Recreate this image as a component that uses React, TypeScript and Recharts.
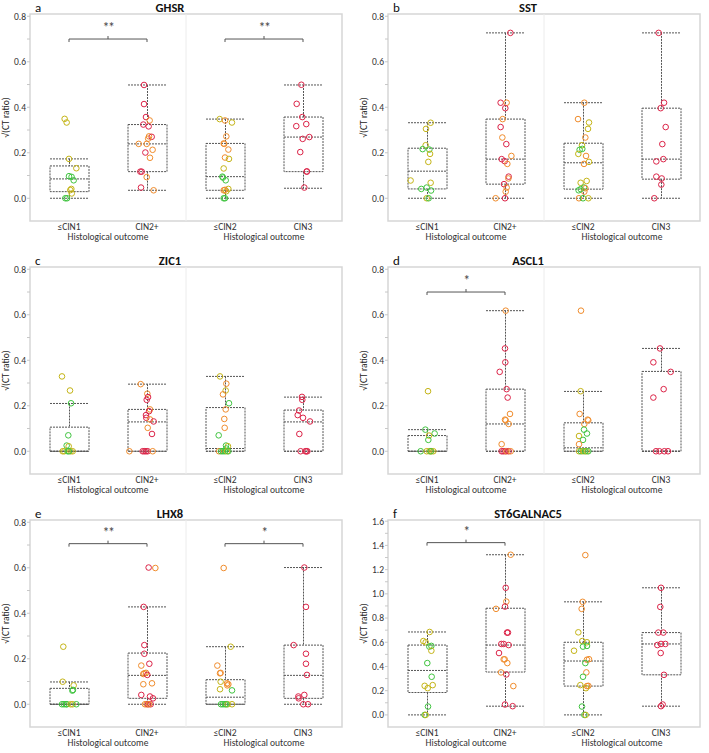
import React from "react";
import {
  Bar,
  ComposedChart,
  ReferenceArea,
  ReferenceLine,
  Scatter,
  XAxis,
  YAxis,
} from "recharts";

const FONT = "Carlito, Lato, 'Open Sans', sans-serif";

const GROUPS = ["≤CIN1", "CIN2+", "≤CIN2", "CIN3"];
const HALVES = ["left", "left", "right", "right"];

const GRADE_COLORS: Record<string, string> = {
  g: "#3fc43f",
  y: "#c4b416",
  o: "#f08c2c",
  r: "#dc2448",
};

// box stats per group: [min, q1, median, q3, max]
const ghsrBoxes = [
  [0, 0.029, 0.085, 0.142, 0.173],
  [0.035, 0.117, 0.239, 0.324, 0.498],
  [0, 0.035, 0.095, 0.241, 0.348],
  [0.044, 0.117, 0.269, 0.357, 0.498],
];
// points: [group, jitter (fraction of band), value, grade]
const ghsrPoints: [number, number, number, string][] = [
  [0, -0.056, 0.349, "y"], [0, -0.03, 0.333, "y"], [0, 0.0, 0.173, "y"], [0, 0.094, 0.132, "y"],
  [0, 0.0, 0.097, "g"], [0, 0.033, 0.094, "g"], [0, 0.06, 0.079, "g"], [0, 0.03, 0.041, "y"],
  [0, 0.017, 0.036, "y"], [0, 0.035, 0.021, "y"], [0, -0.047, 0, "g"], [0, -0.025, 0, "g"],
  [1, -0.038, 0.498, "r"], [1, -0.038, 0.414, "r"], [1, -0.013, 0.357, "r"], [1, 0.034, 0.342, "o"],
  [1, -0.047, 0.324, "r"], [1, 0.021, 0.316, "r"], [1, 0.026, 0.272, "o"], [1, 0.06, 0.27, "r"],
  [1, 0.015, 0.262, "o"], [1, -0.106, 0.239, "o"], [1, -0.004, 0.239, "o"], [1, 0.072, 0.213, "o"],
  [1, -0.021, 0.201, "r"], [1, 0.038, 0.178, "o"], [1, -0.085, 0.117, "r"], [1, -0.068, 0.117, "r"],
  [1, -0.004, 0.093, "o"], [1, -0.077, 0.047, "r"], [1, 0.085, 0.035, "o"],
  [2, -0.068, 0.348, "y"], [2, 0.0, 0.342, "o"], [2, 0.089, 0.333, "y"], [2, 0.017, 0.272, "o"],
  [2, -0.017, 0.241, "o"], [2, -0.01, 0.239, "o"], [2, 0.043, 0.214, "o"], [2, 0.0, 0.179, "o"],
  [2, 0.051, 0.173, "y"], [2, -0.017, 0.131, "y"], [2, -0.034, 0.095, "g"], [2, -0.026, 0.091, "g"],
  [2, 0.009, 0.079, "g"], [2, 0.043, 0.041, "y"], [2, 0.0, 0.037, "o"], [2, 0.017, 0.031, "y"],
  [2, -0.017, 0.035, "o"], [2, -0.017, 0, "g"], [2, 0.0, 0, "g"],
  [3, -0.021, 0.499, "r"], [3, -0.081, 0.415, "r"], [3, -0.009, 0.357, "r"], [3, -0.086, 0.317, "r"],
  [3, 0.042, 0.326, "r"], [3, -0.004, 0.261, "r"], [3, 0.081, 0.269, "r"], [3, -0.035, 0.203, "r"],
  [3, 0.047, 0.117, "r"], [3, 0.05, 0.118, "r"], [3, 0.017, 0.047, "r"],
];

const sstBoxes = [
  [0, 0.041, 0.119, 0.22, 0.332],
  [0, 0.062, 0.172, 0.348, 0.727],
  [0, 0.04, 0.156, 0.242, 0.42],
  [0, 0.084, 0.172, 0.396, 0.727],
];
const sstPoints: [number, number, number, string][] = [
  [0, 0.047, 0.332, "y"], [0, -0.013, 0.305, "y"], [0, -0.017, 0.233, "y"], [0, -0.056, 0.216, "g"],
  [0, 0.03, 0.214, "g"], [0, 0.039, 0.195, "y"], [0, 0.017, 0.16, "y"], [0, -0.21, 0.078, "y"],
  [0, 0.047, 0.068, "y"], [0, -0.073, 0.041, "g"], [0, -0.004, 0.047, "g"], [0, 0.052, 0.034, "g"],
  [0, -0.004, 0, "y"], [0, 0.021, 0, "g"],
  [1, 0.069, 0.727, "r"], [1, -0.056, 0.42, "r"], [1, 0.021, 0.42, "o"], [1, 0.004, 0.396, "r"],
  [1, -0.03, 0.348, "o"], [1, -0.056, 0.313, "r"], [1, -0.034, 0.267, "o"], [1, 0.017, 0.238, "r"],
  [1, -0.043, 0.172, "r"], [1, 0.082, 0.186, "o"], [1, -0.004, 0.163, "r"], [1, 0.03, 0.151, "o"],
  [1, 0.047, 0.095, "r"], [1, 0.043, 0.087, "o"], [1, -0.013, 0.062, "r"], [1, 0.021, 0.047, "o"],
  [1, 0.009, 0.029, "o"], [1, -0.12, 0, "o"], [1, 0.0, 0, "r"],
  [2, 0.017, 0.42, "o"], [2, -0.064, 0.348, "o"], [2, 0.077, 0.333, "y"], [2, 0.064, 0.305, "y"],
  [2, 0.03, 0.267, "o"], [2, -0.013, 0.233, "y"], [2, -0.043, 0.213, "g"], [2, -0.009, 0.217, "g"],
  [2, -0.06, 0.195, "y"], [2, 0.039, 0.186, "o"], [2, 0.077, 0.16, "y"], [2, 0.013, 0.151, "o"],
  [2, 0.047, 0.076, "y"], [2, -0.03, 0.068, "y"], [2, -0.056, 0.035, "g"], [2, 0.013, 0.047, "g"],
  [2, 0.03, 0.044, "o"], [2, 0.017, 0.029, "o"], [2, -0.03, 0.04, "g"], [2, -0.052, 0, "o"],
  [2, 0.0, 0, "g"], [2, 0.069, 0, "y"],
  [3, -0.03, 0.727, "r"], [3, 0.039, 0.42, "r"], [3, -0.004, 0.396, "r"], [3, 0.06, 0.313, "r"],
  [3, 0.017, 0.238, "r"], [3, 0.03, 0.172, "r"], [3, -0.06, 0.162, "r"], [3, -0.06, 0.095, "r"],
  [3, 0.009, 0.087, "r"], [3, 0.004, 0.06, "r"], [3, -0.086, 0, "r"],
];

const zic1Boxes = [
  [0, 0, 0, 0.106, 0.21],
  [0, 0, 0.129, 0.184, 0.295],
  [0, 0, 0.012, 0.192, 0.329],
  [0, 0, 0.129, 0.181, 0.238],
];
const zic1Points: [number, number, number, string][] = [
  [0, -0.09, 0.329, "y"], [0, 0.013, 0.267, "y"], [0, 0.026, 0.211, "g"], [0, -0.009, 0.07, "g"],
  [0, -0.03, 0.025, "g"], [0, -0.004, 0.022, "y"], [0, -0.081, 0, "y"], [0, -0.06, 0, "y"],
  [0, -0.017, 0, "g"], [0, 0.021, 0, "y"], [0, 0.047, 0, "y"], [0, 0.0, 0, "g"],
  [1, -0.081, 0.295, "o"], [1, 0.004, 0.253, "o"], [1, 0.013, 0.238, "r"], [1, -0.004, 0.226, "r"],
  [1, 0.038, 0.184, "o"], [1, 0.026, 0.176, "r"], [1, -0.013, 0.159, "r"], [1, -0.009, 0.147, "r"],
  [1, 0.038, 0.14, "o"], [1, 0.085, 0.131, "r"], [1, 0.009, 0.103, "o"], [1, 0.064, 0.076, "r"],
  [1, -0.226, 0, "o"], [1, -0.056, 0, "r"], [1, -0.034, 0, "r"], [1, -0.013, 0, "r"],
  [1, 0.009, 0, "r"], [1, 0.073, 0, "o"],
  [2, -0.064, 0.329, "y"], [2, 0.017, 0.297, "o"], [2, 0.009, 0.267, "y"], [2, -0.026, 0.25, "o"],
  [2, 0.051, 0.211, "g"], [2, 0.009, 0.184, "o"], [2, -0.009, 0.142, "o"], [2, -0.004, 0.103, "o"],
  [2, -0.081, 0.07, "g"], [2, 0.013, 0.025, "g"], [2, 0.038, 0.022, "y"], [2, 0.017, 0.012, "g"],
  [2, -0.077, 0, "o"], [2, -0.051, 0, "g"], [2, -0.026, 0, "g"], [2, 0.0, 0, "g"],
  [2, 0.026, 0, "y"], [2, 0.043, 0, "g"],
  [3, -0.013, 0.239, "r"], [3, -0.009, 0.226, "r"], [3, -0.051, 0.179, "r"], [3, -0.068, 0.159, "r"],
  [3, 0.0, 0.147, "r"], [3, 0.09, 0.131, "r"], [3, -0.047, 0.076, "r"], [3, -0.03, 0, "r"],
  [3, 0.03, 0, "r"], [3, 0.056, 0, "r"], [3, 0.043, 0, "r"],
];

const ascl1Boxes = [
  [0, 0, 0, 0.069, 0.095],
  [0, 0, 0.12, 0.273, 0.618],
  [0, 0, 0.015, 0.125, 0.263],
  [0, 0, 0, 0.351, 0.452],
];
const ascl1Points: [number, number, number, string][] = [
  [0, 0.013, 0.264, "y"], [0, -0.021, 0.095, "g"], [0, 0.098, 0.078, "g"], [0, 0.026, 0.069, "y"],
  [0, 0.017, 0.05, "g"], [0, -0.081, 0, "g"], [0, -0.004, 0, "y"], [0, 0.03, 0, "y"],
  [0, 0.056, 0, "y"], [0, 0.081, 0, "y"], [0, 0.047, 0, "g"],
  [1, 0.009, 0.618, "o"], [1, 0.0, 0.452, "r"], [1, 0.004, 0.391, "r"], [1, -0.068, 0.349, "r"],
  [1, 0.021, 0.273, "r"], [1, 0.034, 0.236, "r"], [1, 0.064, 0.164, "o"], [1, 0.0, 0.139, "o"],
  [1, 0.009, 0.136, "o"], [1, 0.047, 0.12, "o"], [1, -0.043, 0.031, "o"], [1, -0.043, 0, "r"],
  [1, -0.021, 0, "r"], [1, 0.004, 0, "r"], [1, 0.021, 0, "o"], [1, 0.047, 0, "r"], [1, 0.073, 0, "o"],
  [2, -0.026, 0.618, "o"], [2, -0.03, 0.264, "y"], [2, -0.043, 0.164, "o"], [2, 0.06, 0.139, "o"],
  [2, 0.068, 0.136, "o"], [2, 0.017, 0.12, "o"], [2, 0.013, 0.095, "g"], [2, 0.051, 0.078, "g"],
  [2, -0.051, 0.067, "y"], [2, 0.0, 0.05, "g"], [2, -0.051, 0.031, "o"], [2, -0.051, 0, "y"],
  [2, -0.026, 0, "g"], [2, 0.0, 0, "y"], [2, 0.026, 0, "g"], [2, 0.047, 0, "y"], [2, 0.068, 0, "g"],
  [3, -0.013, 0.452, "r"], [3, -0.098, 0.391, "r"], [3, 0.124, 0.349, "r"], [3, 0.034, 0.273, "r"],
  [3, -0.098, 0.236, "r"], [3, -0.064, 0, "r"], [3, -0.021, 0, "r"], [3, 0.043, 0, "r"], [3, 0.09, 0, "r"],
];

const lhx8Boxes = [
  [0, 0, 0, 0.07, 0.098],
  [0, 0.026, 0.127, 0.225, 0.428],
  [0, 0, 0.031, 0.108, 0.253],
  [0, 0.026, 0.127, 0.26, 0.601],
];
const lhx8Points: [number, number, number, string][] = [
  [0, -0.073, 0.253, "y"], [0, -0.081, 0.099, "y"], [0, 0.06, 0.083, "y"], [0, 0.051, 0.063, "g"],
  [0, 0.043, 0.06, "g"], [0, -0.09, 0, "g"], [0, -0.064, 0, "g"], [0, -0.038, 0, "g"],
  [0, -0.026, 0, "g"], [0, 0.021, 0, "y"], [0, 0.047, 0, "y"], [0, 0.094, 0, "g"],
  [1, 0.021, 0.601, "r"], [1, 0.107, 0.599, "o"], [1, -0.043, 0.428, "r"], [1, -0.034, 0.26, "r"],
  [1, -0.034, 0.222, "r"], [1, 0.03, 0.178, "r"], [1, -0.073, 0.17, "o"], [1, -0.034, 0.136, "o"],
  [1, -0.013, 0.138, "o"], [1, -0.047, 0.133, "o"], [1, 0.004, 0.129, "r"], [1, 0.064, 0.092, "o"],
  [1, -0.047, 0.088, "o"], [1, -0.073, 0.041, "r"], [1, 0.038, 0.034, "r"], [1, 0.077, 0.026, "r"],
  [1, -0.026, 0, "o"], [1, -0.004, 0, "o"], [1, 0.013, 0, "r"], [1, 0.047, 0, "r"], [1, 0.026, 0, "o"],
  [2, -0.017, 0.599, "o"], [2, 0.073, 0.253, "y"], [2, -0.098, 0.17, "o"], [2, -0.064, 0.136, "o"],
  [2, -0.056, 0.138, "o"], [2, -0.056, 0.099, "y"], [2, 0.026, 0.092, "o"], [2, 0.043, 0.088, "o"],
  [2, 0.03, 0.083, "o"], [2, -0.064, 0.066, "y"], [2, 0.09, 0.061, "g"], [2, -0.051, 0, "g"],
  [2, -0.026, 0, "g"], [2, 0.0, 0, "g"], [2, 0.034, 0, "y"], [2, 0.09, 0, "y"], [2, 0.017, 0, "g"],
  [3, 0.017, 0.601, "r"], [3, 0.038, 0.428, "r"], [3, -0.12, 0.26, "r"], [3, 0.038, 0.222, "r"],
  [3, 0.038, 0.178, "r"], [3, 0.051, 0.129, "r"], [3, 0.017, 0.041, "r"], [3, -0.06, 0.034, "r"],
  [3, -0.056, 0.026, "r"], [3, 0.004, 0, "r"], [3, 0.064, 0, "r"],
];

const st6Boxes = [
  [0, 0.185, 0.367, 0.577, 0.685],
  [0.072, 0.354, 0.577, 0.881, 1.323],
  [0, 0.238, 0.445, 0.6, 0.934],
  [0.072, 0.331, 0.586, 0.68, 1.05],
];
const st6Points: [number, number, number, string][] = [
  [0, 0.034, 0.685, "y"], [0, -0.047, 0.61, "y"], [0, -0.017, 0.6, "y"], [0, 0.03, 0.564, "g"],
  [0, 0.056, 0.57, "g"], [0, 0.056, 0.53, "y"], [0, 0.004, 0.428, "g"], [0, 0.06, 0.315, "g"],
  [0, 0.073, 0.246, "y"], [0, -0.03, 0.24, "y"], [0, 0.009, 0.221, "y"], [0, 0.013, 0.069, "g"],
  [0, -0.03, 0, "g"], [0, -0.017, 0, "y"],
  [1, 0.073, 1.323, "o"], [1, 0.009, 1.05, "r"], [1, 0.017, 0.936, "o"], [1, 0.0, 0.895, "r"],
  [1, -0.115, 0.876, "o"], [1, 0.038, 0.68, "r"], [1, 0.026, 0.68, "r"], [1, -0.047, 0.586, "r"],
  [1, -0.017, 0.586, "r"], [1, 0.047, 0.577, "r"], [1, -0.077, 0.511, "r"], [1, -0.017, 0.459, "o"],
  [1, -0.004, 0.459, "o"], [1, 0.03, 0.428, "o"], [1, -0.051, 0.351, "o"], [1, 0.017, 0.334, "r"],
  [1, 0.107, 0.238, "o"], [1, 0.0, 0.086, "r"], [1, 0.098, 0.072, "r"],
  [2, 0.03, 1.32, "o"], [2, -0.004, 0.934, "o"], [2, -0.017, 0.876, "o"], [2, -0.06, 0.682, "y"],
  [2, -0.009, 0.61, "y"], [2, 0.051, 0.6, "y"], [2, 0.0, 0.564, "g"], [2, 0.051, 0.57, "g"],
  [2, -0.115, 0.53, "y"], [2, 0.051, 0.456, "o"], [2, 0.077, 0.46, "o"], [2, 0.03, 0.428, "g"],
  [2, 0.043, 0.351, "o"], [2, 0.0, 0.315, "g"], [2, -0.034, 0.246, "y"], [2, 0.051, 0.238, "o"],
  [2, 0.068, 0.24, "o"], [2, 0.038, 0.221, "y"], [2, -0.013, 0.069, "g"], [2, 0.017, 0, "g"],
  [2, 0.034, 0, "y"],
  [3, 0.0, 1.05, "r"], [3, -0.009, 0.892, "r"], [3, -0.034, 0.68, "r"], [3, 0.03, 0.68, "r"],
  [3, -0.047, 0.577, "r"], [3, 0.0, 0.586, "r"], [3, 0.056, 0.586, "r"], [3, -0.004, 0.511, "r"],
  [3, 0.038, 0.331, "r"], [3, 0.021, 0.086, "r"], [3, 0.0, 0.072, "r"],
];

// significance brackets: [from group, to group, label]
const ghsrSig: [number, number, string][] = [[0, 1, "**"], [2, 3, "**"]];
const ascl1Sig: [number, number, string][] = [[0, 1, "*"]];
const lhx8Sig: [number, number, string][] = [[0, 1, "**"], [2, 3, "*"]];
const st6Sig: [number, number, string][] = [[0, 1, "*"]];

const TICKS_08 = [0, 0.1, 0.2, 0.3, 0.4, 0.5, 0.6, 0.7, 0.8];
const TICKS_16 = [0, 0.1, 0.2, 0.3, 0.4, 0.5, 0.6, 0.7, 0.8, 0.9, 1.0, 1.1, 1.2, 1.3, 1.4, 1.5, 1.6];

const BoxShape = (props: any) => {
  const { x, y, width, height, payload } = props;
  const [mn, q1, md, q3, mx] = payload.stats;
  const top = Math.min(y, y + height);
  const h = Math.abs(height);
  const py = (v: number) => top + (h * (mx - v)) / (mx - mn);
  const cx = x + width / 2;
  const s = { stroke: "#555", strokeWidth: 1, strokeDasharray: "2 1", fill: "none" };
  return (
    <g>
      <line x1={cx} x2={cx} y1={py(mx)} y2={py(q3)} {...s} />
      <line x1={cx} x2={cx} y1={py(q1)} y2={py(mn)} {...s} />
      <line x1={x} x2={x + width} y1={py(mx)} y2={py(mx)} {...s} />
      <line x1={x} x2={x + width} y1={py(mn)} y2={py(mn)} {...s} />
      <rect x={x} y={py(q3)} width={width} height={py(q1) - py(q3)} {...s} />
      <line x1={x} x2={x + width} y1={py(md)} y2={py(md)} {...s} />
    </g>
  );
};

const Dot = (props: any) => (
  <circle
    cx={props.cx}
    cy={props.cy}
    r={2.8}
    fill="none"
    stroke={GRADE_COLORS[props.payload.grade]}
    strokeWidth={1}
  />
);

const Stars = (props: any) => (
  <text
    x={props.cx}
    y={props.cy - 7}
    textAnchor="middle"
    fontSize={14}
    letterSpacing={-1.5}
    fill="#444"
    fontFamily={FONT}
  >
    {props.payload.t}
  </text>
);

const YLabel = ({ viewBox }: any) => {
  const x = viewBox.x + 9;
  const y = viewBox.y + viewBox.height / 2;
  return (
    <text x={x} y={y} transform={`rotate(-90 ${x} ${y})`} textAnchor="middle" fontSize={9.5} fill="#222" fontFamily={FONT}>
      √(CT ratio)
    </text>
  );
};

interface PanelProps {
  letter: string;
  title: string;
  boxes: number[][];
  points: [number, number, number, string][];
  sig: [number, number, string][];
  yMax: number;
  ticks: number[];
  bracketY: number;
  left: number;
  top: number;
}

const Panel = ({ letter, title, boxes, points, sig, yMax, ticks, bracketY, left, top }: PanelProps) => {
  const yMin = -0.1;
  const drop = ((yMax - yMin) * 3) / 207;
  const boxData = GROUPS.map((g, i) => ({
    group: g,
    half: HALVES[i],
    range: [boxes[i][0], boxes[i][4]],
    stats: boxes[i],
  }));
  const dots = points.map(([g, j, v, c]) => ({ x: g + 0.5 + j, y: v, grade: c }));
  const stars = sig.map(([a, b, t]) => ({ x: (a + b) / 2 + 0.5, y: bracketY, t }));

  return (
    <div style={{ position: "absolute", left, top, width: 350, height: 250 }}>
      <div style={{ position: "absolute", left: 35, top: 0, fontSize: 13, lineHeight: "15px", fontFamily: FONT, color: "#111" }}>
        {letter}
      </div>
      <div
        style={{
          position: "absolute",
          left: 110,
          width: 120,
          top: 0,
          textAlign: "center",
          fontSize: 12.5,
          lineHeight: "16px",
          fontWeight: 700,
          fontFamily: FONT,
          color: "#111",
        }}
      >
        {title}
      </div>
      <ComposedChart
        width={350}
        height={250}
        data={boxData}
        margin={{ top: 14, right: 8, bottom: 4, left: 0 }}
        style={{ fontFamily: FONT }}
      >
        <XAxis
          xAxisId="cat"
          dataKey="group"
          axisLine={false}
          tickLine={false}
          tickSize={0}
          tickMargin={2}
          height={11}
          tick={{ fontSize: 9.5, fill: "#333" }}
        />
        <XAxis
          xAxisId="half"
          dataKey="half"
          allowDuplicatedCategory={false}
          axisLine={false}
          tickLine={false}
          tickSize={0}
          tickMargin={1}
          height={14}
          tick={{ fontSize: 9.5, fill: "#333" }}
          tickFormatter={() => "Histological outcome"}
        />
        <XAxis xAxisId="num" dataKey="x" type="number" domain={[0, 4]} hide />
        <YAxis
          type="number"
          domain={[yMin, yMax]}
          allowDataOverflow
          ticks={ticks}
          interval={0}
          width={30}
          axisLine={false}
          tickSize={3}
          tickMargin={1}
          tickLine={{ stroke: "#c8c8c8" }}
          tick={{ fontSize: 9.5, fill: "#333" }}
          tickFormatter={(v: number) => (Math.round(v * 10) % 2 === 0 ? v.toFixed(1) : "")}
          label={<YLabel />}
        />
        <ReferenceArea
          xAxisId="num"
          x1={0}
          x2={4}
          y1={yMin}
          y2={yMax}
          fill="none"
          stroke="#d6d6d6"
          strokeWidth={1.5}
          fillOpacity={0}
        />
        <ReferenceLine xAxisId="num" x={2} stroke="#ececec" strokeWidth={1} />
        <Bar
          xAxisId="cat"
          dataKey="range"
          barSize={39}
          shape={<BoxShape />}
          isAnimationActive={false}
        />
        {sig.map(([a, b], i) => (
          <ReferenceLine
            key={`h${i}`}
            xAxisId="num"
            segment={[{ x: a + 0.5, y: bracketY }, { x: b + 0.5, y: bracketY }]}
            stroke="#555"
            strokeWidth={1}
          />
        ))}
        {sig.map(([a], i) => (
          <ReferenceLine
            key={`l${i}`}
            xAxisId="num"
            segment={[{ x: a + 0.5, y: bracketY }, { x: a + 0.5, y: bracketY - drop }]}
            stroke="#555"
            strokeWidth={1}
          />
        ))}
        {sig.map(([, b], i) => (
          <ReferenceLine
            key={`r${i}`}
            xAxisId="num"
            segment={[{ x: b + 0.5, y: bracketY }, { x: b + 0.5, y: bracketY - drop }]}
            stroke="#555"
            strokeWidth={1}
          />
        ))}
        {sig.map(([a, b], i) => (
          <ReferenceLine
            key={`m${i}`}
            xAxisId="num"
            segment={[{ x: (a + b) / 2 + 0.5, y: bracketY }, { x: (a + b) / 2 + 0.5, y: bracketY + drop }]}
            stroke="#555"
            strokeWidth={1}
          />
        ))}
        <Scatter xAxisId="num" data={dots} dataKey="y" shape={<Dot />} isAnimationActive={false} />
        <Scatter xAxisId="num" data={stars} dataKey="y" shape={<Stars />} isAnimationActive={false} />
      </ComposedChart>
    </div>
  );
};

export default function App() {
  return (
    <div
      style={{
        position: "absolute",
        left: 0,
        top: 0,
        width: 709,
        height: 753,
        background: "#fff",
        fontFamily: FONT,
      }}
    >
      <Panel letter="a" title="GHSR" boxes={ghsrBoxes} points={ghsrPoints} sig={ghsrSig} yMax={0.81} ticks={TICKS_08} bracketY={0.7} left={0} top={0} />
      <Panel letter="b" title="SST" boxes={sstBoxes} points={sstPoints} sig={[]} yMax={0.81} ticks={TICKS_08} bracketY={0.7} left={358} top={0} />
      <Panel letter="c" title="ZIC1" boxes={zic1Boxes} points={zic1Points} sig={[]} yMax={0.81} ticks={TICKS_08} bracketY={0.7} left={0} top={253} />
      <Panel letter="d" title="ASCL1" boxes={ascl1Boxes} points={ascl1Points} sig={ascl1Sig} yMax={0.81} ticks={TICKS_08} bracketY={0.7} left={358} top={253} />
      <Panel letter="e" title="LHX8" boxes={lhx8Boxes} points={lhx8Points} sig={lhx8Sig} yMax={0.81} ticks={TICKS_08} bracketY={0.706} left={0} top={506} />
      <Panel letter="f" title="ST6GALNAC5" boxes={st6Boxes} points={st6Points} sig={st6Sig} yMax={1.61} ticks={TICKS_16} bracketY={1.423} left={358} top={506} />
    </div>
  );
}
